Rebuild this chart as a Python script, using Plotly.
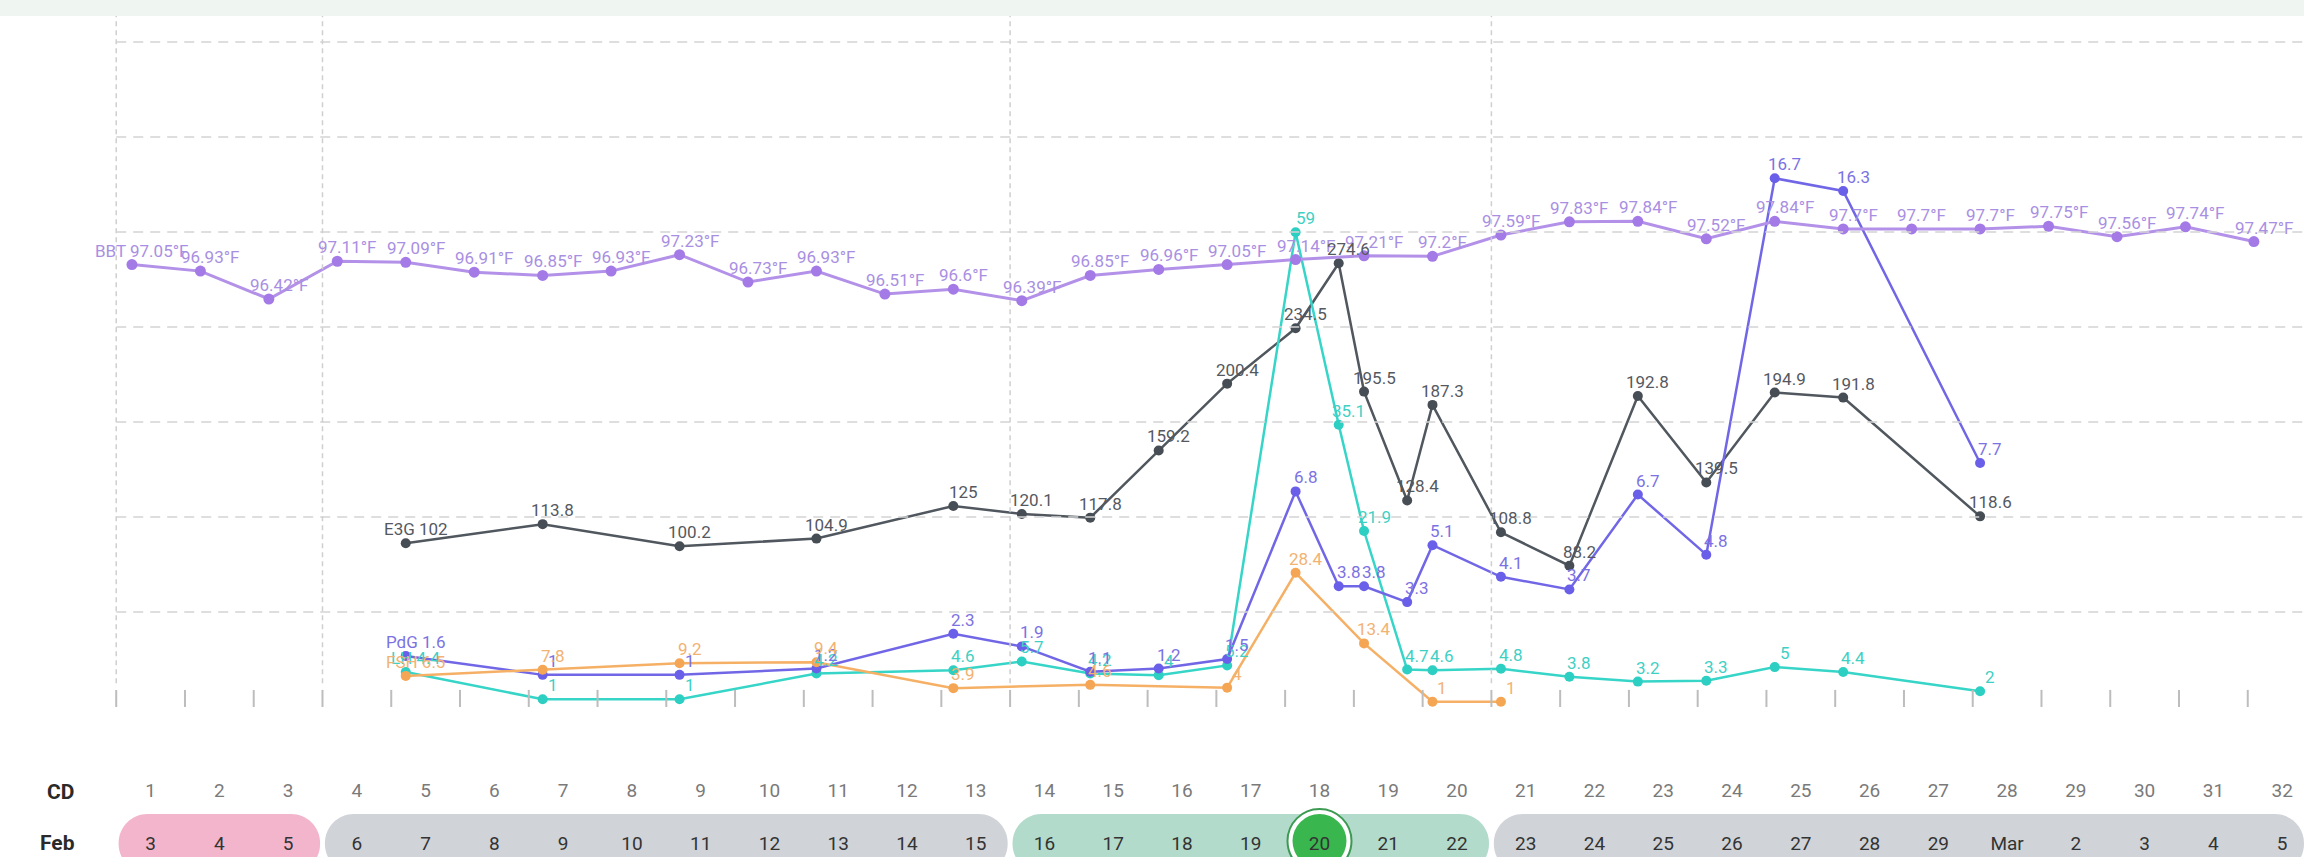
import plotly.graph_objects as go

# ---------------- data ----------------
cycle_days = list(range(1, 33))
date_labels = [str(d) for d in range(3, 30)] + ["Mar", "2", "3", "4", "5"]

bbt_days = list(range(1, 33))
bbt_values = [97.05, 96.93, 96.42, 97.11, 97.09, 96.91, 96.85, 96.93, 97.23, 96.73,
              96.93, 96.51, 96.6, 96.39, 96.85, 96.96, 97.05, 97.14, 97.21, 97.2,
              97.59, 97.83, 97.84, 97.52, 97.84, 97.7, 97.7, 97.7, 97.75, 97.56,
              97.74, 97.47]

test_days = [5, 7, 9, 11, 13, 14, 15, 16, 17, 18, 18.63, 19, 19.63, 20, 21, 22,
             23, 24, 25, 26, 28]
e3g_values = [102, 113.8, 100.2, 104.9, 125, 120.1, 117.8, 159.2, 200.4, 234.5,
              274.6, 195.5, 128.4, 187.3, 108.8, 88.2, 192.8, 139.5, 194.9, 191.8,
              118.6]
lh_values = [4.4, 1, 1, 4.2, 4.6, 5.7, 4.2, 4.0, 5.2, 59, 35.1, 21.9, 4.7, 4.6,
             4.8, 3.8, 3.2, 3.3, 5, 4.4, 2]
pdg_values = [1.6, 1, 1, 1.2, 2.3, 1.9, 1.1, 1.2, 1.5, 6.8, 3.8, 3.8, 3.3, 5.1,
              4.1, 3.7, 6.7, 4.8, 16.7, 16.3, 7.7]
fsh_days = [5, 7, 9, 11, 13, 15, 17, 18, 19, 20, 21]
fsh_values = [6.5, 7.8, 9.2, 9.4, 3.9, 4.6, 4, 28.4, 13.4, 1, 1]

phase_start = [1, 4, 14, 21]
phase_end = [3, 13, 20, 32]
phase_colors = ["#f2b5cb", "#d0d3d8", "#b3dbcb", "#d0d3d8"]
phase_lines = [0.5, 3.5, 13.5, 20.5]
peak_day = 18
grid_levels = [1, 2, 3, 4, 5, 6, 7]

# ---------------- styling ----------------
FONT = "Roboto"
W, H = 2304, 857

series = [
    dict(name="BBT", x=bbt_days, y=bbt_values, axis="y6", line="#b391e8",
         marker="#a47ae6", label="#a98fe2", unit="°F", lw=3, ms=11),
    dict(name="E3G", x=test_days, y=e3g_values, axis="y2", line="#50575e",
         marker="#464d54", label="#55595f", unit="", lw=2.5, ms=10),
    dict(name="LH", x=test_days, y=lh_values, axis="y3", line="#36d5c8",
         marker="#2ccfc2", label="#3fd0c4", unit="", lw=2.5, ms=10),
    dict(name="PdG", x=test_days, y=pdg_values, axis="y4", line="#7167e6",
         marker="#6a5fe8", label="#7b72e2", unit="", lw=2.5, ms=10),
    dict(name="FSH", x=fsh_days, y=fsh_values, axis="y5", line="#f5b066",
         marker="#f5a655", label="#f2b272", unit="", lw=2.5, ms=10),
]

fig = go.Figure()
annotations = []

for s in series:
    fig.add_trace(go.Scatter(
        x=s["x"], y=s["y"], xaxis="x", yaxis=s["axis"], mode="lines+markers",
        line=dict(color=s["line"], width=s["lw"]),
        marker=dict(color=s["marker"], size=s["ms"]),
        cliponaxis=False, hoverinfo="skip", showlegend=False))
    for i, (xv, yv) in enumerate(zip(s["x"], s["y"])):
        txt = f"{yv:g}{s['unit']}"
        if i == 0:
            txt = f"{s['name']} {txt}"
        annotations.append(dict(
            x=xv, y=yv, xref="x", yref=s["axis"], text=txt, showarrow=False,
            xshift=10, yshift=14, font=dict(family=FONT, size=17, color=s["label"])))

# day label rows (on the day axis x2)
fig.add_trace(go.Scatter(
    x=cycle_days, y=[-0.895] * len(cycle_days), xaxis="x2", yaxis="y",
    mode="text", text=[str(c) for c in cycle_days],
    textfont=dict(family=FONT, size=19, color="#7a7a7a"),
    cliponaxis=False, hoverinfo="skip", showlegend=False))

fig.add_trace(go.Scatter(
    x=cycle_days, y=[-1.455] * len(cycle_days), xaxis="x2", yaxis="y",
    mode="text", text=date_labels,
    textfont=dict(family=FONT, size=19, color="#333333"),
    cliponaxis=False, hoverinfo="skip", showlegend=False))

annotations.append(dict(x=60 / W, y=1 - 792 / H, xref="paper", yref="paper",
                        xanchor="center", yanchor="middle",
                        text="<b>CD</b>", showarrow=False,
                        font=dict(family=FONT, size=21, color="#2a2a2a")))
annotations.append(dict(x=57 / W, y=1 - 843 / H, xref="paper", yref="paper",
                        xanchor="center", yanchor="middle",
                        text="<b>Feb</b>", showarrow=False,
                        font=dict(family=FONT, size=21, color="#2a2a2a")))

# ---------------- shapes ----------------
shapes = []
# top band
shapes.append(dict(type="rect", xref="paper", yref="paper", x0=0, x1=1,
                   y0=1 - 16 / H, y1=1, fillcolor="#eff5f1", line=dict(width=0),
                   layer="below"))
# horizontal dashed grid
for lv in grid_levels:
    shapes.append(dict(type="line", xref="x2", yref="y", x0=0.5, x1=32.318,
                       y0=lv, y1=lv, line=dict(color="#d3d3d3", width=1.5,
                                               dash="10px,7px"), layer="below"))
# phase separators
for b in phase_lines:
    shapes.append(dict(type="line", xref="x2", yref="y", x0=b, x1=b,
                       y0=0.25, y1=7.274, line=dict(color="#cfcfcf", width=1.5,
                                                   dash="5px,4px"), layer="below"))
# day ticks
for c in cycle_days:
    b = c - 0.5
    shapes.append(dict(type="line", xref="x2", yref="y", x0=b, x1=b,
                       y0=0, y1=0.18, line=dict(color="#bdbdbd", width=2),
                       layer="below"))

DAYPX = 68.76


def rounded_path(xa, xb, ya, yb, r):
    rx = r / DAYPX
    ry = r / H
    k = 0.5523
    return (f"M {xa + rx},{yb} L {xb - rx},{yb} "
            f"C {xb - rx + k * rx},{yb} {xb},{yb - ry + k * ry} {xb},{yb - ry} "
            f"L {xb},{ya + ry} "
            f"C {xb},{ya + ry - k * ry} {xb - rx + k * rx},{ya} {xb - rx},{ya} "
            f"L {xa + rx},{ya} "
            f"C {xa + rx - k * rx},{ya} {xa},{ya + ry - k * ry} {xa},{ya + ry} "
            f"L {xa},{yb - ry} "
            f"C {xa},{yb - ry + k * ry} {xa + rx - k * rx},{yb} {xa + rx},{yb} Z")


for ps, pe, col in zip(phase_start, phase_end, phase_colors):
    xa = ps - 0.5 + 0.035
    xb = min(pe + 0.5 - 0.035, 32.318)
    shapes.append(dict(type="path", xref="x2", yref="paper",
                       path=rounded_path(xa, xb, 1 - 873 / H, 1 - 814 / H, 29),
                       fillcolor=col, line=dict(width=0), layer="below"))

# highlighted peak day
for r, fill, lcol, lw in [(32, "#ffffff", "#3c9a52", 2), (27, "#3ab64f", "#3ab64f", 0)]:
    shapes.append(dict(type="circle", xref="x2", yref="paper",
                       x0=peak_day - r / DAYPX, x1=peak_day + r / DAYPX,
                       y0=1 - (841 + r) / H, y1=1 - (841 - r) / H,
                       fillcolor=fill, line=dict(color=lcol, width=lw), layer="below"))

# ---------------- layout ----------------
hidden = dict(visible=False, showgrid=False, zeroline=False, fixedrange=True)
fig.update_layout(
    width=W, height=H, margin=dict(l=0, r=0, t=0, b=0),
    paper_bgcolor="white", plot_bgcolor="rgba(0,0,0,0)",
    showlegend=False,
    xaxis=dict(**hidden, domain=[63.5 / W, 2301.8 / W], range=[0, 32.7]),
    xaxis2=dict(**hidden, domain=[109.34 / W, 1.0], range=[0.4, 32.318], anchor="y"),
    yaxis=dict(**hidden, domain=[0, 1], range=[-1.5789, 7.4421]),
    yaxis2=dict(**hidden, overlaying="y", range=[-91.33, 436.83]),
    yaxis3=dict(**hidden, overlaying="y", range=[-18.585, 87.848]),
    yaxis4=dict(**hidden, overlaying="y", range=[-4.758, 22.336]),
    yaxis5=dict(**hidden, overlaying="y", range=[-31.97, 150.07]),
    yaxis6=dict(**hidden, overlaying="y", range=[86.219, 101.886]),
    shapes=shapes,
    annotations=annotations,
)

fig.write_html("out.html", config={"displayModeBar": False},
               post_script="document.body.style.margin='0';")
